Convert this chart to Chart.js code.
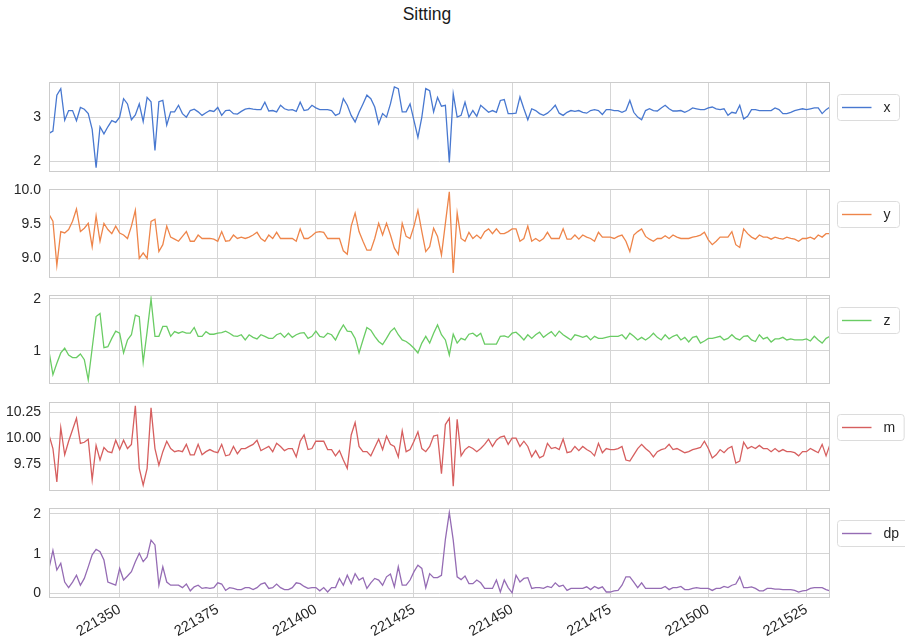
<!DOCTYPE html>
<html>
<head>
<meta charset="utf-8">
<script src="https://cdn.jsdelivr.net/npm/chart.js@4.4.1/dist/chart.umd.min.js"></script>
<style>
  html, body { margin: 0; padding: 0; background: #ffffff; }
  body { width: 905px; height: 644px; position: relative; overflow: hidden; font-family: "Liberation Sans", Arial, sans-serif; }
  #title { position: absolute; left: 0; width: 854px; top: 3px; text-align: center; font-size: 17.5px; line-height: 22px; color: #1a1a1a; }
  canvas { position: absolute; left: 0; }
</style>
</head>
<body>
<div id="title">Sitting</div>
<script>
// ---------------- data ----------------
const firstSample = 221332;   // index of the first sample (x axis)
const xTickValues = [221350, 221375, 221400, 221425, 221450, 221475, 221500, 221525];

const seriesX = [
 2.63,2.68,3.5,3.65,2.93,3.15,3.15,2.92,3.22,3.18,
 3.08,2.72,1.85,2.78,2.62,2.78,2.92,2.88,3.0,3.42,
 3.3,2.94,3.05,3.3,2.9,3.45,3.35,2.24,3.35,3.38,
 2.82,3.12,3.12,3.27,3.08,3.0,3.15,3.18,3.12,3.04,
 3.1,3.15,3.13,3.22,3.04,3.15,3.16,3.08,3.07,3.13,
 3.18,3.2,3.18,3.17,3.17,3.34,3.14,3.15,3.12,3.27,
 3.19,3.16,3.17,3.13,3.34,3.15,3.17,3.27,3.21,3.17,
 3.17,3.17,3.15,3.04,3.08,3.42,3.27,3.04,2.89,3.11,
 3.3,3.5,3.42,3.23,2.85,3.08,3.0,3.3,3.69,3.65,
 3.12,3.12,3.3,2.92,2.54,3.0,3.65,3.6,3.12,3.45,
 3.25,3.27,1.97,3.53,3.0,3.04,3.34,3.0,3.15,3.02,
 3.27,3.19,3.11,3.15,3.11,3.38,3.4,3.08,3.08,3.09,
 3.46,3.19,2.94,3.19,3.15,3.08,3.04,3.09,3.17,3.27,
 3.09,3.04,3.11,3.15,3.13,3.15,3.11,3.09,3.15,3.17,
 3.15,3.06,3.17,3.17,3.15,3.15,3.11,3.15,3.38,3.11,
 3.0,2.94,3.15,3.19,3.15,3.14,3.21,3.27,3.19,3.14,
 3.14,3.15,3.11,3.15,3.21,3.19,3.17,3.17,3.21,3.23,
 3.19,3.17,3.19,3.04,3.11,3.09,3.27,2.96,3.02,3.17,
 3.17,3.15,3.15,3.15,3.15,3.21,3.17,3.08,3.08,3.11,
 3.15,3.17,3.19,3.17,3.19,3.21,3.21,3.08,3.17,3.23
];

const seriesY = [
 9.64,9.54,8.9,9.39,9.37,9.42,9.54,9.72,9.39,9.44,
 9.51,9.17,9.62,9.25,9.51,9.42,9.36,9.47,9.37,9.34,
 9.29,9.47,9.7,9.0,9.08,9.0,9.54,9.57,9.1,9.2,
 9.47,9.31,9.28,9.25,9.32,9.39,9.25,9.25,9.34,9.29,
 9.29,9.29,9.28,9.25,9.39,9.25,9.26,9.34,9.29,9.31,
 9.29,9.31,9.34,9.38,9.29,9.25,9.34,9.29,9.38,9.29,
 9.29,9.29,9.29,9.25,9.43,9.29,9.29,9.33,9.38,9.39,
 9.38,9.29,9.29,9.29,9.29,9.11,9.06,9.47,9.66,9.39,
 9.25,9.12,9.12,9.29,9.51,9.34,9.51,9.34,9.15,9.06,
 9.51,9.32,9.29,9.47,9.7,9.39,9.1,9.17,9.44,9.32,
 9.05,9.51,9.97,8.79,9.66,9.29,9.25,9.38,9.29,9.34,
 9.29,9.39,9.43,9.36,9.43,9.36,9.36,9.39,9.43,9.43,
 9.25,9.29,9.47,9.25,9.29,9.25,9.29,9.38,9.29,9.29,
 9.29,9.43,9.28,9.28,9.34,9.28,9.34,9.31,9.29,9.25,
 9.38,9.31,9.31,9.31,9.29,9.32,9.34,9.25,9.1,9.34,
 9.39,9.43,9.32,9.28,9.25,9.29,9.29,9.33,9.29,9.34,
 9.31,9.29,9.29,9.29,9.31,9.32,9.34,9.38,9.27,9.2,
 9.25,9.31,9.31,9.31,9.39,9.2,9.16,9.43,9.36,9.31,
 9.28,9.34,9.31,9.31,9.28,9.31,9.29,9.28,9.31,9.29,
 9.28,9.25,9.29,9.29,9.31,9.28,9.34,9.31,9.36,9.36
];

const seriesZ = [
 0.99,0.54,0.76,0.96,1.05,0.92,0.87,0.87,0.94,0.83,
 0.44,1.05,1.66,1.72,1.06,1.08,1.24,1.38,1.34,0.96,
 1.21,1.31,1.69,1.66,0.78,1.37,2.0,1.28,1.28,1.47,
 1.47,1.28,1.37,1.34,1.37,1.34,1.34,1.45,1.28,1.28,
 1.37,1.32,1.32,1.34,1.35,1.38,1.34,1.29,1.28,1.31,
 1.21,1.31,1.26,1.23,1.31,1.28,1.24,1.24,1.31,1.34,
 1.26,1.34,1.26,1.31,1.34,1.35,1.24,1.28,1.38,1.28,
 1.26,1.34,1.31,1.21,1.37,1.5,1.38,1.37,1.24,0.96,
 1.21,1.45,1.4,1.28,1.18,1.12,1.24,1.37,1.44,1.31,
 1.21,1.18,1.12,1.05,0.96,1.15,1.28,1.15,1.34,1.5,
 1.31,1.21,0.92,1.32,1.15,1.24,1.21,1.32,1.34,1.28,
 1.34,1.13,1.13,1.13,1.13,1.28,1.29,1.26,1.34,1.36,
 1.29,1.21,1.31,1.24,1.31,1.36,1.26,1.32,1.37,1.28,
 1.38,1.31,1.26,1.21,1.31,1.29,1.26,1.29,1.21,1.28,
 1.24,1.24,1.26,1.28,1.28,1.28,1.31,1.23,1.34,1.28,
 1.21,1.26,1.21,1.26,1.34,1.26,1.21,1.31,1.23,1.28,
 1.31,1.21,1.26,1.17,1.26,1.28,1.15,1.19,1.24,1.24,
 1.26,1.28,1.21,1.24,1.31,1.24,1.21,1.28,1.29,1.21,
 1.18,1.31,1.23,1.26,1.17,1.23,1.23,1.26,1.21,1.23,
 1.21,1.21,1.21,1.23,1.19,1.28,1.21,1.15,1.24,1.28
];

const seriesM = [
 10.03,9.9,9.58,10.1,9.84,9.97,10.08,10.19,9.95,9.96,
 9.99,9.6,9.93,9.79,9.91,9.87,9.86,9.98,9.89,9.98,
 9.9,9.94,10.31,9.71,9.55,9.71,10.29,9.9,9.74,9.87,
 9.97,9.9,9.87,9.88,9.87,9.94,9.84,9.84,9.94,9.84,
 9.87,9.89,9.87,9.86,9.94,9.83,9.84,9.92,9.85,9.9,
 9.9,9.92,9.94,9.98,9.88,9.9,9.92,9.87,9.95,9.92,
 9.88,9.9,9.9,9.82,9.97,10.03,9.89,9.9,9.97,9.97,
 9.97,9.89,9.89,9.83,9.88,9.79,9.71,10.03,10.15,9.92,
 9.87,9.87,9.83,9.91,9.99,9.89,10.02,9.94,9.92,9.82,
 10.07,9.87,9.89,9.97,10.06,9.9,9.87,9.92,10.02,10.03,
 9.66,10.13,10.19,9.54,10.18,9.83,9.89,9.92,9.9,9.87,
 9.9,9.94,9.99,9.92,9.98,10.01,10.02,9.94,10.0,10.0,
 9.92,9.97,9.92,9.82,9.88,9.81,9.83,9.95,9.9,9.91,
 9.89,9.99,9.86,9.87,9.92,9.88,9.92,9.89,9.87,9.83,
 9.95,9.86,9.9,9.89,9.89,9.9,9.92,9.79,9.78,9.84,
 9.9,9.94,9.9,9.87,9.82,9.87,9.89,9.9,9.94,9.89,
 9.9,9.88,9.86,9.87,9.89,9.9,9.91,9.97,9.9,9.81,
 9.84,9.89,9.86,9.9,9.92,9.76,9.78,9.96,9.9,9.92,
 9.9,9.93,9.9,9.9,9.87,9.9,9.87,9.89,9.87,9.87,
 9.86,9.83,9.87,9.87,9.9,9.88,9.86,9.94,9.83,9.94
];

const seriesDp = [
 0.63,1.08,0.59,0.76,0.29,0.15,0.29,0.46,0.21,0.38,
 0.67,0.97,1.11,1.05,0.84,0.29,0.25,0.21,0.63,0.34,
 0.44,0.55,0.8,1.01,0.8,0.92,1.34,1.22,0.21,0.67,
 0.29,0.21,0.21,0.21,0.15,0.24,0.07,0.17,0.21,0.13,
 0.15,0.13,0.15,0.27,0.24,0.08,0.15,0.13,0.1,0.1,
 0.15,0.15,0.1,0.15,0.24,0.27,0.13,0.15,0.24,0.15,
 0.1,0.1,0.15,0.27,0.25,0.18,0.13,0.15,0.15,0.07,
 0.15,0.04,0.15,0.15,0.38,0.21,0.46,0.25,0.5,0.34,
 0.4,0.13,0.27,0.38,0.34,0.21,0.42,0.49,0.17,0.67,
 0.21,0.21,0.34,0.55,0.71,0.63,0.15,0.5,0.4,0.4,
 0.46,1.36,2.03,1.34,0.42,0.35,0.44,0.25,0.25,0.34,
 0.27,0.13,0.13,0.13,0.34,0.04,0.34,0.15,0.02,0.46,
 0.29,0.38,0.4,0.13,0.15,0.15,0.13,0.18,0.15,0.27,
 0.18,0.21,0.08,0.13,0.13,0.13,0.13,0.17,0.1,0.18,
 0.13,0.17,0.04,0.04,0.07,0.08,0.21,0.42,0.42,0.29,
 0.15,0.27,0.13,0.13,0.13,0.13,0.13,0.18,0.1,0.15,
 0.15,0.18,0.1,0.1,0.13,0.15,0.13,0.13,0.13,0.08,
 0.13,0.13,0.18,0.15,0.21,0.24,0.42,0.15,0.15,0.17,
 0.13,0.07,0.07,0.13,0.13,0.11,0.11,0.1,0.1,0.1,
 0.08,0.04,0.07,0.08,0.13,0.15,0.15,0.15,0.1,0.07
];

const seriesNames = ['x', 'y', 'z', 'm', 'dp'];
const yTicksX  = [2, 3];           const yLabelsX  = ['2', '3'];
const yTicksY  = [9.0, 9.5, 10.0]; const yLabelsY  = ['9.0', '9.5', '10.0'];
const yTicksZ  = [1, 2];           const yLabelsZ  = ['1', '2'];
const yTicksM  = [9.75, 10.0, 10.25]; const yLabelsM = ['9.75', '10.00', '10.25'];
const yTicksDp = [0, 1, 2];        const yLabelsDp = ['0', '1', '2'];

// ---------------- styling / layout ----------------
const FONT = '"Liberation Sans", Arial, sans-serif';
const TEXT = '#262626';
const GRID = '#d5d5d5';
const panels = [
  { name: seriesNames[0], values: seriesX,  color: '#4878d0', min: 1.75,  max: 3.80,   ticks: yTicksX,  labels: yLabelsX,  top: 82,  bottom: 172 },
  { name: seriesNames[1], values: seriesY,  color: '#ee854a', min: 8.715, max: 10.01,  ticks: yTicksY,  labels: yLabelsY,  top: 189, bottom: 278 },
  { name: seriesNames[2], values: seriesZ,  color: '#6acc64', min: 0.36,  max: 2.077,  ticks: yTicksZ,  labels: yLabelsZ,  top: 295, bottom: 384 },
  { name: seriesNames[3], values: seriesM,  color: '#d65f5f', min: 9.493, max: 10.346, ticks: yTicksM,  labels: yLabelsM,  top: 402, bottom: 491 },
  { name: seriesNames[4], values: seriesDp, color: '#956cb4', min: -0.11, max: 2.144,  ticks: yTicksDp, labels: yLabelsDp, top: 508, bottom: 598 }
];
const PAD = 24, LEFT = 49, RIGHT = 830, W = 905, H = 644;

const framePlugin = {
  id: 'frameLegend',
  afterDraw(chart, args, opts) {
    const { ctx, chartArea: a } = chart;
    ctx.save();
    ctx.strokeStyle = '#cccccc';
    ctx.lineWidth = 1;
    ctx.strokeRect(Math.round(a.left) + 0.5, Math.round(a.top) + 0.5,
                   Math.round(a.right - a.left) - 1, Math.round(a.bottom - a.top) - 1);
    // legend box
    ctx.font = '14px ' + FONT;
    const label = opts.label;
    const tw = ctx.measureText(label).width;
    const bx = a.right + 7.5, by = a.top + 12.5, bh = 26;
    const bw = Math.max(59, 46 + tw + 9);
    const r = 3;
    ctx.beginPath();
    ctx.moveTo(bx + r, by);
    ctx.lineTo(bx + bw - r, by); ctx.arcTo(bx + bw, by, bx + bw, by + r, r);
    ctx.lineTo(bx + bw, by + bh - r); ctx.arcTo(bx + bw, by + bh, bx + bw - r, by + bh, r);
    ctx.lineTo(bx + r, by + bh); ctx.arcTo(bx, by + bh, bx, by + bh - r, r);
    ctx.lineTo(bx, by + r); ctx.arcTo(bx, by, bx + r, by, r);
    ctx.closePath();
    ctx.fillStyle = 'rgba(255,255,255,0.8)';
    ctx.fill();
    ctx.strokeStyle = '#dcdcdc';
    ctx.stroke();
    ctx.beginPath();
    ctx.moveTo(bx + 4.5, by + bh / 2);
    ctx.lineTo(bx + 34, by + bh / 2);
    ctx.strokeStyle = opts.color;
    ctx.lineWidth = 1.4;
    ctx.stroke();
    ctx.fillStyle = TEXT;
    ctx.textBaseline = 'middle';
    ctx.textAlign = 'left';
    ctx.fillText(label, bx + 46, by + bh / 2 + 1);
    ctx.restore();
  }
};

panels.forEach((p, idx) => {
  const isLast = idx === panels.length - 1;
  const cTop = p.top - PAD;
  const cH = isLast ? (H - cTop) : (p.bottom - p.top + 2 * PAD);
  const xAxisH = isLast ? (H - p.bottom) : 0;
  const canvas = document.createElement('canvas');
  canvas.width = W; canvas.height = cH;
  canvas.style.top = cTop + 'px';
  canvas.style.width = W + 'px'; canvas.style.height = cH + 'px';
  document.body.appendChild(canvas);

  const points = p.values.map((v, i) => ({ x: firstSample + i, y: v }));

  new Chart(canvas, {
    type: 'line',
    data: { datasets: [{ label: p.name, data: points, borderColor: p.color, borderWidth: 1.3,
                         pointRadius: 0, tension: 0, fill: false }] },
    plugins: [framePlugin],
    options: {
      responsive: false, animation: false, devicePixelRatio: 1,
      layout: { padding: { left: 0, right: W - RIGHT, top: PAD, bottom: isLast ? 0 : PAD } },
      plugins: { legend: { display: false }, title: { display: false }, tooltip: { enabled: false },
                 frameLegend: { label: p.name, color: p.color } },
      scales: {
        x: {
          type: 'linear', bounds: 'data',
          min: firstSample, max: firstSample + p.values.length - 1,
          afterBuildTicks: s => { s.ticks = xTickValues.map(v => ({ value: v })); },
          afterFit: s => { s.height = xAxisH; },
          grid: { color: GRID, drawTicks: false, lineWidth: 1 },
          border: { display: false },
          ticks: { display: isLast, autoSkip: false, maxRotation: 30, minRotation: 30, padding: 3,
                   color: TEXT, font: { size: 14.5, family: FONT }, callback: v => String(v) }
        },
        y: {
          type: 'linear', bounds: 'data', min: p.min, max: p.max,
          afterBuildTicks: s => { s.ticks = p.ticks.map(v => ({ value: v })); },
          afterFit: s => { s.width = LEFT; },
          grid: { color: GRID, drawTicks: false, lineWidth: 1 },
          border: { display: false },
          ticks: { padding: 8, color: TEXT, font: { size: 14, family: FONT },
                   callback: (v, i) => p.labels[i] }
        }
      }
    }
  });
});
</script>
</body>
</html>
